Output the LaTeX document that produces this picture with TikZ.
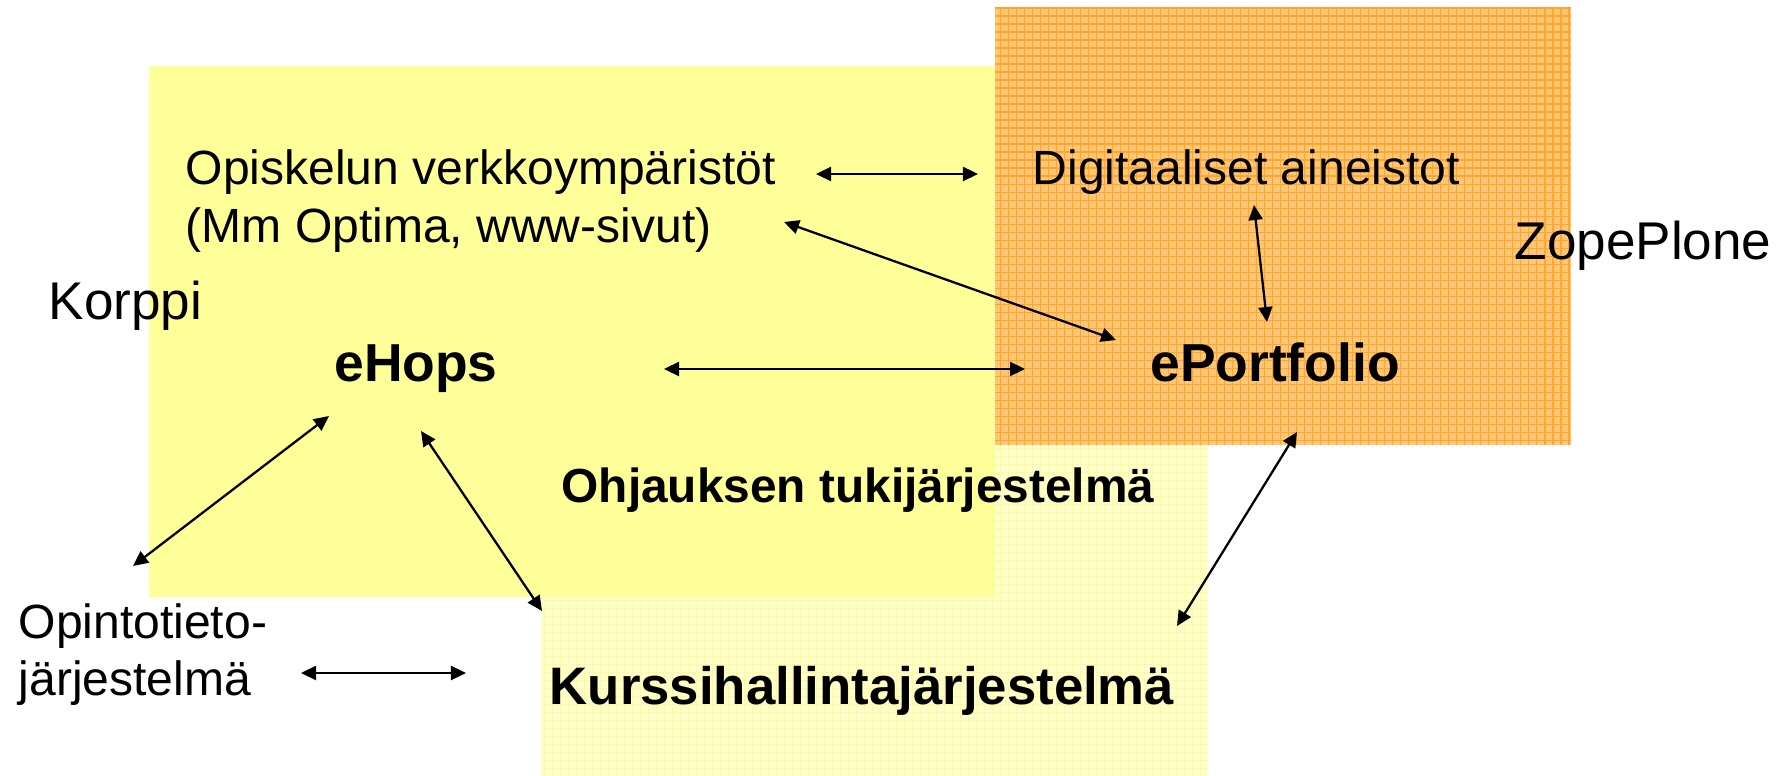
\documentclass[tikz,border=0pt]{standalone}
\usepackage{fontspec}
\setmainfont{Liberation Sans}
\usetikzlibrary{arrows.meta}
\definecolor{keltainen}{RGB}{255,255,153}
\definecolor{vaalea}{RGB}{255,255,200}
\definecolor{vaaleaviiva}{RGB}{255,248,168}
\definecolor{oranssi}{RGB}{255,198,115}
\definecolor{oranssiviiva}{RGB}{255,166,46}
\newcommand{\teksti}{\fontsize{13.66}{16.2}\selectfont}
\newcommand{\suuri}{\fontsize{15.1}{18}\selectfont}
\newcommand{\lihava}{\fontsize{15.2}{18}\selectfont\bfseries}
\newcommand{\kj}{\fontsize{15.0}{18}\selectfont\bfseries}
\newcommand{\oh}{\fontsize{13.6}{16}\selectfont\bfseries}

\begin{document}
\begin{tikzpicture}[x=0.01cm,y=-0.01cm,
    conn/.style={{Triangle[length=1.5mm,width=1.4mm]}-{Triangle[length=1.5mm,width=1.4mm]},line width=0.65pt},
    txt/.style={inner sep=0pt,anchor=base west,font=\teksti}]
    \useasboundingbox[fill=white] (0,0) rectangle (1787,776);
    % kurssihallinta (under)
    \fill[vaalea] (541,300) rectangle (1208,776);
    \begin{scope}
      \clip (541,300) rectangle (1208,776);
      \draw[vaaleaviiva,line width=0.1mm,step=0.8mm] (541,776) grid (1208,300);
    \end{scope}
    % korppi
    \fill[keltainen] (149,66) rectangle (995,597);
    % zopeplone
    \fill[oranssi] (995,8) rectangle (1571,445);
    \begin{scope}
      \clip (995,8) rectangle (1571,445);
      \draw[oranssiviiva,line width=0.12mm,step=0.8mm] (995,445) grid (1571,8);
    \end{scope}

    \node[txt] (verkko) at (185,185) {Opiskelun verkkoympäristöt};
    \node[txt] (verkko2) at (185,242) {(Mm Optima, www-sivut)};
    \node[txt] (digi) at (1032,185) {Digitaaliset aineistot};
    \node[txt,font=\suuri] (zope) at (1514,260) {ZopePlone};
    \node[txt,font=\suuri] (korppi) at (48,320) {Korppi};
    \node[txt] (opinto) at (18,638) {Opintotieto-};
    \node[txt] (opinto2) at (18,695) {järjestelmä};
    \node[inner sep=0pt,anchor=base,font=\lihava] (ehops) at (416,382) {eHops};
    \node[inner sep=0pt,anchor=base,font=\lihava] (eport) at (1275,382) {ePortfolio};
    \node[inner sep=0pt,anchor=base,font=\oh] (ohjaus) at (858,502) {Ohjauksen tukijärjestelmä};
    \node[inner sep=0pt,anchor=base,font=\kj] (kurssi) at (862,704) {Kurssihallintajärjestelmä};

    % arrow ends
    \coordinate (verkko-e) at (816,174);   \coordinate (digi-w) at (978,174);
    \coordinate (verkko2-e) at (784,222);  \coordinate (eport-nw) at (1116,340);
    \coordinate (digi-s) at (1254,205);    \coordinate (eport-n) at (1267,322);
    \coordinate (ehops-e) at (664,369);    \coordinate (eport-w) at (1025,369);
    \coordinate (ehops-sw) at (329,416);   \coordinate (opinto-ne) at (133,566);
    \coordinate (ehops-se) at (421,431);   \coordinate (kurssi-nw) at (542,611);
    \coordinate (eport-s) at (1297,432);   \coordinate (kurssi-ne) at (1177,626);
    \coordinate (opinto-e) at (301,673);   \coordinate (kurssi-w) at (466,673);

    \draw[conn] (verkko-e) -- (digi-w);
    \draw[conn] (verkko2-e) -- (eport-nw);
    \draw[conn] (digi-s) -- (eport-n);
    \draw[conn] (ehops-e) -- (eport-w);
    \draw[conn] (ehops-sw) -- (opinto-ne);
    \draw[conn] (ehops-se) -- (kurssi-nw);
    \draw[conn] (eport-s) -- (kurssi-ne);
    \draw[conn] (opinto-e) -- (kurssi-w);
\end{tikzpicture}
\end{document}
